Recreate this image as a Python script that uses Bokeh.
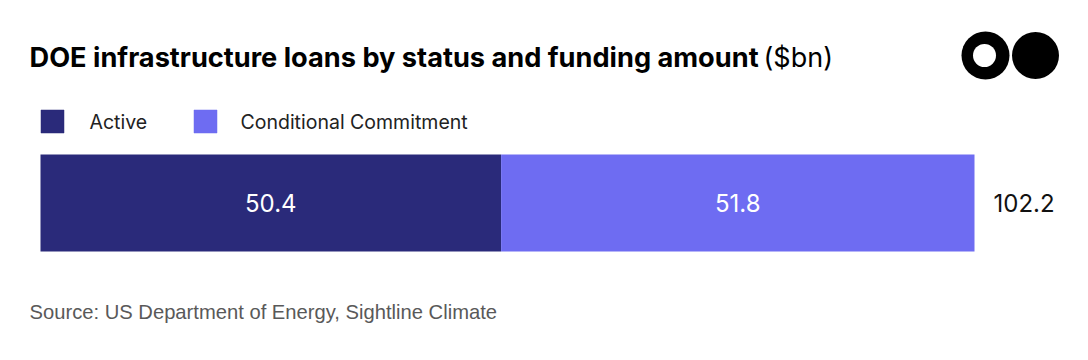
from bokeh.plotting import figure
from bokeh.models import Range1d, Label, ColumnDataSource
from bokeh.embed import file_html
from bokeh.resources import INLINE

# ---- data ----
categories = ["DOE loans"]
series = ["Active", "Conditional Commitment"]
active = [50.4]
conditional = [51.8]
colors = ["#2A2A7A", "#6E6CF2"]
title_bold = "DOE infrastructure loans by status and funding amount"
title_unit = "($bn)"
source_text = "Source: US Department of Energy, Sightline Climate"

# ---- layout (pixels on page) ----
W, H = 1072, 344
ORG = 0
BAR_L, BAR_R = 40, 974
BAR_TOP, BAR_BOT = 154, 251
total = [a + c for a, c in zip(active, conditional)]
S = (BAR_R - BAR_L) / total[0]
X0 = -(BAR_L - ORG) / S
BH = BAR_BOT - BAR_TOP
YC = (BAR_TOP + BAR_BOT) / 2


def sx(px):
    return X0 + (px - ORG) / S


def sy(py):
    return (YC - py) / BH


p = figure(width=W, height=H, output_backend="svg", toolbar_location=None,
           x_range=Range1d(X0, X0 + W / S),
           y_range=Range1d(-(H + ORG - YC) / BH, (YC - ORG) / BH),
           min_border=0, outline_line_color=None)
p.axis.visible = False
p.grid.visible = False
p.background_fill_color = "white"
p.border_fill_color = "white"

src = ColumnDataSource(dict(
    y=[0] * len(categories),
    active=active,
    conditional=conditional,
    total=total,
))
p.hbar_stack(["active", "conditional"], y="y", height=1.0, color=colors,
             source=src, line_color=None)

# value labels
mid_a = [a / 2 for a in active]
mid_c = [a + c / 2 for a, c in zip(active, conditional)]
lbl = dict(text_font="Inter", text_font_size="24px", text_align="center",
           text_baseline="middle", text_color="white")
for i in range(len(categories)):
    p.add_layout(Label(x=mid_a[i], y=0, text=f"{active[i]:.1f}", **lbl))
    p.add_layout(Label(x=mid_c[i], y=0, text=f"{conditional[i]:.1f}", **lbl))
    p.add_layout(Label(x=total[i], y=0, x_offset=19, text=f"{total[i]:.1f}",
                       text_font="Inter", text_font_size="24px", text_align="left",
                       text_baseline="middle", text_color="#111111"))

# title
p.add_layout(Label(x=sx(29), y=sy(57), text=title_bold, text_font="Inter",
                   text_font_style="bold", text_font_size="27.2px",
                   text_baseline="alphabetic", text_color="#000000"))
p.add_layout(Label(x=sx(763), y=sy(57), text=title_unit, text_font="Inter",
                   text_font_size="27px", text_baseline="alphabetic",
                   text_color="#000000"))

# legend
leg_sq = [52, 205]
leg_tx = [89, 240]
for name, col, sqx, tx in zip(series, colors, leg_sq, leg_tx):
    p.scatter(x=[sx(sqx)], y=[sy(121)], marker="square", size=23,
              fill_color=col, line_color=col, line_alpha=0.5)
    p.add_layout(Label(x=sx(tx), y=sy(121), text=name, text_font="Inter",
                       text_font_size="19.5px", text_baseline="middle",
                       text_color="#222222"))

# logo
p.scatter(x=[sx(985)], y=[sy(55)], marker="circle", size=48,
          fill_color="black", line_color=None)
p.scatter(x=[sx(984)], y=[sy(55)], marker="circle", size=23,
          fill_color="white", line_color=None)
p.scatter(x=[sx(1035)], y=[sy(55)], marker="circle", size=47,
          fill_color="black", line_color=None)

# source
p.add_layout(Label(x=sx(29), y=sy(311), text=source_text,
                   text_font="Liberation Sans", text_font_size="20.2px",
                   text_baseline="middle", text_color="#595959"))

open("out.html", "w").write(file_html(p, INLINE))
